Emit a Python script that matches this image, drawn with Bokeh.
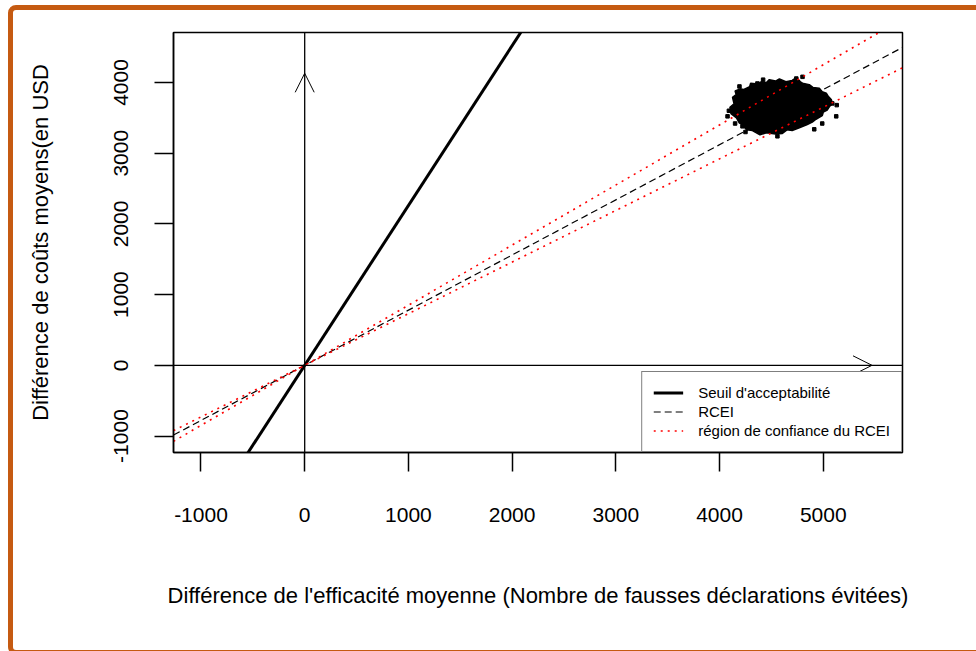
from bokeh.plotting import figure
from bokeh.models import (Range1d, FixedTicker, Span, Arrow, OpenHead, Legend,
                          LegendItem, InlineStyleSheet)
from bokeh.embed import file_html
from bokeh.resources import INLINE

# ---------------- data ----------------
x_ticks = [-1000, 0, 1000, 2000, 3000, 4000, 5000]
x_tick_labels = ["-1000", "0", "1000", "2000", "3000", "4000", "5000"]
y_ticks = [-1000, 0, 1000, 2000, 3000, 4000]
y_tick_labels = ["-1000", "0", "1000", "2000", "3000", "4000"]

x_limits = [-1265, 5764]
y_limits = [-1233, 4707]

seuil_pente = 2.26      # seuil d'acceptabilité (slope through origin)
rcei_pente = 0.78       # RCEI
ic_bas_pente = 0.73     # lower bound of confidence region
ic_haut_pente = 0.85    # upper bound of confidence region

# outline of the bootstrap cloud (dense region), ragged edge
cloud_x = [4125, 4160, 4150, 4200, 4230, 4290, 4300, 4370, 4400, 4452, 4480,
           4540, 4577, 4640, 4700, 4740, 4780, 4800, 4865, 4900, 4962, 4990,
           5029, 5050, 5077, 5090, 5060, 5038, 5000, 4990, 4930, 4894, 4840,
           4769, 4700, 4650, 4606, 4540, 4452, 4390, 4317, 4260, 4221, 4190,
           4163, 4110, 4100, 4140]
cloud_y = [3790, 3830, 3880, 3910, 3900, 3940, 3990, 3980, 4010, 4000, 4040,
           4020, 4050, 4010, 4030, 4070, 4010, 3990, 3970, 3930, 3920, 3870,
           3850, 3800, 3760, 3700, 3660, 3610, 3580, 3530, 3480, 3440, 3400,
           3360, 3320, 3330, 3280, 3270, 3290, 3260, 3320, 3330, 3400, 3430,
           3500, 3560, 3650, 3700]
# scattered points around the cloud edge
outlier_x = [4192, 4365, 4740, 4077, 4221, 5125, 4913, 5087, 4558, 4090, 5130,
             4250, 4800, 4990, 4420, 4150]
outlier_y = [3944, 3986, 4056, 3521, 3380, 3521, 3338, 3704, 3239, 3600, 3680,
             3300, 4080, 3420, 4040, 3420]

arrow_tip_y = 4130
arrow_tip_x = 5470

legend_labels = ["Seuil d'acceptabilité", "RCEI", "région de confiance du RCEI"]

FONT = "Liberation Sans"

# ---------------- figure ----------------
p = figure(width=976, height=651,
           x_range=Range1d(*x_limits), y_range=Range1d(*y_limits),
           output_backend="svg", toolbar_location=None,
           min_border_left=173, min_border_right=74,
           min_border_top=32, min_border_bottom=199,
           x_axis_label="Différence de l'efficacité moyenne (Nombre de fausses déclarations évitées)",
           y_axis_label="Différence de coûts moyens(en USD")
p.grid.visible = False
p.background_fill_color = "white"
p.border_fill_color = "white"
p.outline_line_color = "black"
p.outline_line_width = 1.5

for ax, ticks, labels in ((p.xaxis[0], x_ticks, x_tick_labels),
                          (p.yaxis[0], y_ticks, y_tick_labels)):
    ax.ticker = FixedTicker(ticks=ticks)
    ax.major_label_overrides = {t: l for t, l in zip(ticks, labels)}
    ax.minor_tick_line_color = None
    ax.major_tick_in = 0
    ax.major_tick_out = 19
    ax.major_tick_line_width = 1.5
    ax.axis_line_width = 1.5
    ax.major_label_text_font = FONT
    ax.major_label_text_font_size = "21px"
    ax.major_label_text_color = "black"
    ax.axis_label_text_font = FONT
    ax.axis_label_text_font_size = "22px"
    ax.axis_label_text_font_style = "normal"
    ax.axis_label_text_color = "black"

p.xaxis.major_label_standoff = 36
p.xaxis.axis_label_standoff = 58
p.yaxis.major_label_standoff = 26
p.yaxis.major_label_orientation = "vertical"
p.yaxis.axis_label_standoff = 59

# cloud of simulated points
p.patch(cloud_x, cloud_y, color="black", line_width=1.5)
p.scatter(outlier_x, outlier_y, marker="square", size=3.5, color="black")

# lines through origin
xs = x_limits
r_seuil = p.line(xs, [seuil_pente * x for x in xs], line_color="black", line_width=3)
r_rcei = p.line(xs, [rcei_pente * x for x in xs], line_color="black",
                line_width=1.2, line_dash="7 4")
r_ic1 = p.line(xs, [ic_bas_pente * x for x in xs], line_color="red",
               line_width=1.6, line_dash="2 5")
r_ic2 = p.line(xs, [ic_haut_pente * x for x in xs], line_color="red",
               line_width=1.6, line_dash="2 5")

# axes through origin with arrow heads
p.add_layout(Span(location=0, dimension="height", line_color="black", line_width=1.3))
p.add_layout(Span(location=0, dimension="width", line_color="black", line_width=1.3))
p.add_layout(Arrow(end=OpenHead(size=19, line_width=1, line_color="black"),
                   x_start=0, y_start=0, x_end=0, y_end=arrow_tip_y, line_alpha=0))
p.add_layout(Arrow(end=OpenHead(size=19, line_width=1, line_color="black"),
                   x_start=0, y_start=0, x_end=arrow_tip_x, y_end=0, line_alpha=0))

legend = Legend(items=[LegendItem(label=legend_labels[0], renderers=[r_seuil]),
                       LegendItem(label=legend_labels[1], renderers=[r_rcei]),
                       LegendItem(label=legend_labels[2], renderers=[r_ic1])],
                location="bottom_right", margin=0, padding=11, spacing=0,
                glyph_width=30, glyph_height=19, label_height=19,
                label_standoff=15, label_text_font=FONT,
                label_text_font_size="15px", label_text_color="black",
                border_line_color="black", border_line_width=1.3,
                background_fill_color="white", background_fill_alpha=1)
p.add_layout(legend)

# orange frame around the picture (page decoration)
p.stylesheets = [InlineStyleSheet(css="""
:host { position: relative; }
:host::after {
  content: ""; position: absolute; left: 8px; top: 5px;
  width: 1010px; height: 650px; box-sizing: border-box;
  border: 5.5px solid #C55A11; border-radius: 8px;
  pointer-events: none; z-index: 10;
}
""")]

open("out.html", "w").write(file_html(p, INLINE))
